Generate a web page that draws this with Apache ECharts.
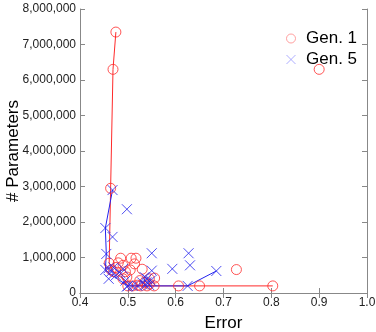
<!DOCTYPE html>
<html><head><meta charset="utf-8">
<script src="https://cdn.jsdelivr.net/npm/echarts@6/dist/echarts.min.js"></script>
<style>html,body{margin:0;padding:0;background:#fff}#c{width:376px;height:332px}</style>
</head><body><div id="c"></div>
<script>
var gen1 = [
[0.475,7350000],[0.469,6300000],[0.464,2950000],[0.900,6300000],[0.727,660000],[0.803,200000],
[0.650,200000],[0.606,200000],[0.461,840000],[0.475,720000],[0.480,850000],[0.485,980000],
[0.490,780000],[0.495,600000],[0.498,450000],[0.505,650000],[0.507,980000],[0.517,980000],
[0.514,820000],[0.530,670000],[0.500,200000],[0.510,200000],[0.520,220000],[0.525,350000],
[0.527,200000],[0.535,300000],[0.540,200000],[0.545,400000],[0.545,250000],[0.555,200000],
[0.556,420000],[0.470,600000],[0.465,650000],[0.490,400000]
];
var gen5 = [
[0.468,2900000],[0.498,2360000],[0.453,1830000],[0.468,1580000],[0.455,1100000],[0.550,1120000],
[0.627,1120000],[0.630,780000],[0.593,680000],[0.685,620000],[0.550,630000],[0.453,650000],
[0.460,700000],[0.465,600000],[0.470,720000],[0.475,500000],[0.460,400000],[0.485,550000],
[0.490,680000],[0.495,350000],[0.500,200000],[0.510,200000],[0.530,300000],[0.535,450000],
[0.540,400000],[0.540,300000],[0.545,220000],[0.548,350000],[0.625,200000],[0.498,180000],
[0.520,200000],[0.537,220000]
];
var front1 = [[0.475,7350000],[0.469,6300000],[0.464,2950000],[0.461,840000],[0.470,600000],[0.490,400000],[0.500,200000],[0.803,200000]];
var front5 = [[0.468,2900000],[0.453,1830000],[0.455,1100000],[0.453,650000],[0.465,520000],[0.480,380000],[0.500,200000],[0.625,200000],[0.685,620000]];
var xTicks = [0.4,0.5,0.6,0.7,0.8,0.9,1.0];
var yTicks = [0,1000000,2000000,3000000,4000000,5000000,6000000,7000000,8000000];

var RED = '#ff2a2a', BLUE = '#2222ee';
var XSYM = 'path://M0,0L10,10M10,0L0,10';
var FONT = 'Liberation Sans, Arial, sans-serif';
var chart = echarts.init(document.getElementById('c'));
var axLine = {lineStyle:{color:'#888',width:1}};
var tick = {inside:true,length:5,lineStyle:{color:'#888'}};
chart.setOption({
  animation:false,
  grid:{left:80,right:9,top:9,bottom:39,outerBoundsMode:'none',containLabel:false},
  legend:{
    left:281, top:25, orient:'vertical', itemGap:4, itemWidth:14, itemHeight:9,
    textStyle:{fontFamily:FONT,fontSize:17,color:'#000',padding:[0,0,0,3]},
    data:[
      {name:'Gen. 1',icon:'circle',itemStyle:{color:'transparent',borderColor:'#ff8888',borderWidth:1}},
      {name:'Gen. 5',icon:XSYM,itemStyle:{color:'transparent',borderColor:'#9999ff',borderWidth:1}}
    ]
  },
  xAxis:[{
    type:'value',min:0.4,max:1.0,interval:0.1,
    name:'Error',nameLocation:'middle',nameGap:22,nameMoveOverlap:false,
    nameTextStyle:{fontFamily:FONT,fontSize:17,color:'#000'},
    axisLine:axLine,axisTick:tick,splitLine:{show:false},
    axisLabel:{fontFamily:FONT,fontSize:12,color:'#222',margin:4,formatter:function(v){return v.toFixed(1);}}
  },{
    type:'value',min:0.4,max:1.0,interval:0.1,position:'top',
    axisLine:axLine,axisTick:tick,axisLabel:{show:false},splitLine:{show:false}
  }],
  yAxis:[{
    type:'value',min:0,max:8000000,interval:1000000,
    name:'# Parameters',nameLocation:'middle',nameGap:58,nameMoveOverlap:false,
    nameTextStyle:{fontFamily:FONT,fontSize:17,color:'#000'},
    axisLine:axLine,axisTick:tick,splitLine:{show:false},
    axisLabel:{fontFamily:FONT,fontSize:12,color:'#222',margin:4,
      formatter:function(v){return v.toLocaleString('en-US');}}
  },{
    type:'value',min:0,max:8000000,interval:1000000,position:'right',
    axisLine:axLine,axisTick:tick,axisLabel:{show:false},splitLine:{show:false}
  }],
  series:[
    {name:'Gen. 1 front',type:'line',data:front1,showSymbol:false,symbol:'none',
     lineStyle:{color:RED,width:1},silent:true,z:1},
    {name:'Gen. 5 front',type:'line',data:front5,showSymbol:false,symbol:'none',
     lineStyle:{color:BLUE,width:1},silent:true,z:1},
    {name:'Gen. 1',type:'scatter',data:gen1,symbol:'circle',symbolSize:10,
     itemStyle:{color:'transparent',borderColor:RED,borderWidth:1},z:2},
    {name:'Gen. 5',type:'scatter',data:gen5,symbol:XSYM,symbolSize:10,
     itemStyle:{color:'transparent',borderColor:BLUE,borderWidth:1},z:3}
  ]
});
</script></body></html>
